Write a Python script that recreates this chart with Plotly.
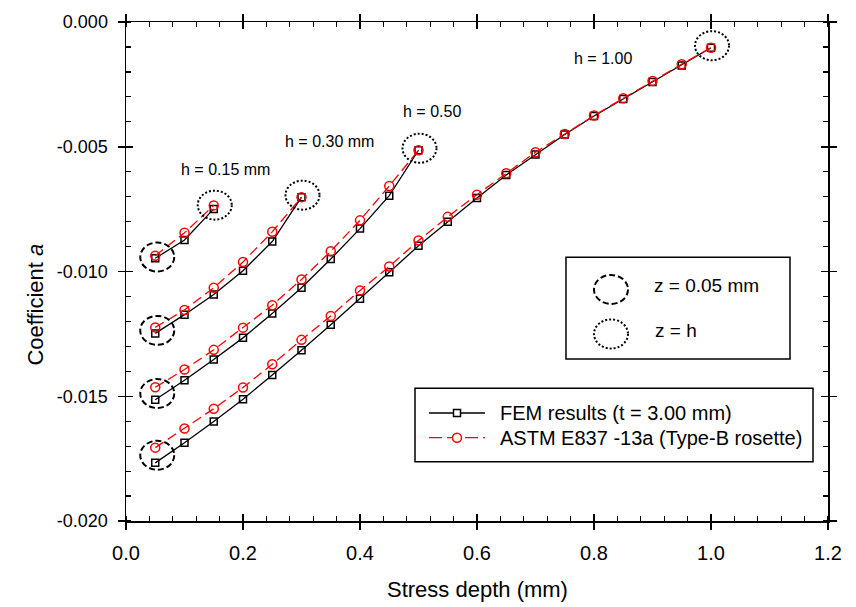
import plotly.graph_objects as go

# ---------------- data ----------------
x_h015 = [0.05, 0.10, 0.15]
fem_h015 = [-0.00947, -0.00874, -0.00749]
astm_h015 = [-0.00937, -0.00845, -0.00735]

x_h030 = [0.05, 0.10, 0.15, 0.20, 0.25, 0.30]
fem_h030 = [-0.01248, -0.01173, -0.01092, -0.00997, -0.00880, -0.00702]
astm_h030 = [-0.01224, -0.01154, -0.01065, -0.00962, -0.00841, -0.00702]

x_h050 = [0.05, 0.10, 0.15, 0.20, 0.25, 0.30, 0.35, 0.40, 0.45, 0.50]
fem_h050 = [-0.01514, -0.01436, -0.01353, -0.01266, -0.01168, -0.01065,
            -0.00950, -0.00828, -0.00696, -0.00514]
astm_h050 = [-0.01464, -0.01393, -0.01314, -0.01225, -0.01135, -0.01032,
             -0.00919, -0.00795, -0.00657, -0.00514]

x_h100 = [0.05, 0.10, 0.15, 0.20, 0.25, 0.30, 0.35, 0.40, 0.45, 0.50,
          0.55, 0.60, 0.65, 0.70, 0.75, 0.80, 0.85, 0.90, 0.95, 1.00]
fem_h100 = [-0.01767, -0.01686, -0.01601, -0.01512, -0.01415, -0.01316,
            -0.01213, -0.01109, -0.01003, -0.00897, -0.00801, -0.00705,
            -0.00613, -0.00531, -0.00451, -0.00377, -0.00309, -0.00240,
            -0.00174, -0.00103]
astm_h100 = [-0.01706, -0.01629, -0.01550, -0.01465, -0.01372, -0.01274,
             -0.01178, -0.01076, -0.00980, -0.00876, -0.00781, -0.00692,
             -0.00606, -0.00522, -0.00449, -0.00375, -0.00306, -0.00236,
             -0.00169, -0.00103]

curve_labels = ["h = 0.15 mm", "h = 0.30 mm", "h = 0.50", "h = 1.00"]
x_ticks = [0.0, 0.2, 0.4, 0.6, 0.8, 1.0, 1.2]
x_ticktext = ["0.0", "0.2", "0.4", "0.6", "0.8", "1.0", "1.2"]
y_ticks = [0.0, -0.005, -0.010, -0.015, -0.020]
y_ticktext = ["0.000", "-0.005", "-0.010", "-0.015", "-0.020"]
fem_name = "FEM results (t = 3.00 mm)"
astm_name = "ASTM E837 -13a (Type-B rosette)"
z_labels = ["z = 0.05 mm", "z = h"]

curves = [(x_h015, fem_h015, astm_h015), (x_h030, fem_h030, astm_h030),
          (x_h050, fem_h050, astm_h050), (x_h100, fem_h100, astm_h100)]

# ---------------- layout geometry (pixels) ----------------
W, H = 856, 607
L, R, T, B = 126, 828, 16, 521
FONT = "Liberation Sans, Arial, sans-serif"


def px(xp):
    return (xp - L) / (R - L)


def py(yp):
    return (B - yp) / (B - T)


fig = go.Figure()

for xs, fem, astm in curves:
    fig.add_trace(go.Scatter(
        x=xs, y=fem, mode="lines+markers", name=fem_name, showlegend=False,
        line=dict(color="black", width=1.3),
        marker=dict(symbol="square-open", size=7, color="black",
                    line=dict(width=1.5, color="black")),
        cliponaxis=False))
    fig.add_trace(go.Scatter(
        x=xs, y=astm, mode="lines+markers", name=astm_name, showlegend=False,
        line=dict(color="#ff0000", width=1.3, dash="10px,5px"),
        marker=dict(symbol="circle-open", size=9, color="#ff0000",
                    line=dict(width=1.5, color="#ff0000")),
        cliponaxis=False))

# invisible trace to activate overlay axes for crossing major ticks
fig.add_trace(go.Scatter(x=[None], y=[None], xaxis="x2", yaxis="y2",
                         showlegend=False, hoverinfo="skip"))

shapes = []
EW, EH = 17, 14.5
for xs, fem, astm in curves:
    # z = 0.05 mm (dashed) at first point
    yc = (fem[0] + astm[0]) / 2
    shapes.append(dict(type="circle", xref="x", yref="y",
                       xsizemode="pixel", ysizemode="pixel",
                       xanchor=xs[0], yanchor=yc,
                       x0=-EW + 2, x1=EW + 2, y0=-EH, y1=EH,
                       line=dict(color="black", width=2, dash="6px,3px")))
    # z = h (dotted) at last point
    yc = (fem[-1] + astm[-1]) / 2
    shapes.append(dict(type="circle", xref="x", yref="y",
                       xsizemode="pixel", ysizemode="pixel",
                       xanchor=xs[-1], yanchor=yc,
                       x0=-EW + 1, x1=EW + 1, y0=-EH + 2, y1=EH + 2,
                       line=dict(color="black", width=2, dash="2px,2px")))

# legend box 1 (z markers)
shapes.append(dict(type="rect", xref="paper", yref="paper",
                   x0=px(566), x1=px(790), y0=py(357), y1=py(254),
                   line=dict(color="black", width=1.5), fillcolor="white",
                   layer="below"))
shapes.append(dict(type="circle", xref="paper", yref="paper",
                   xsizemode="pixel", ysizemode="pixel",
                   xanchor=px(611), yanchor=py(286.7),
                   x0=-EW, x1=EW, y0=-EH, y1=EH,
                   line=dict(color="black", width=2, dash="6px,3px")))
shapes.append(dict(type="circle", xref="paper", yref="paper",
                   xsizemode="pixel", ysizemode="pixel",
                   xanchor=px(611), yanchor=py(331.7),
                   x0=-EW, x1=EW, y0=-EH, y1=EH,
                   line=dict(color="black", width=2, dash="2px,2px")))

# legend box 2 (series)
shapes.append(dict(type="rect", xref="paper", yref="paper",
                   x0=px(415), x1=px(813), y0=py(461), y1=py(386.7),
                   line=dict(color="black", width=1.5), fillcolor="white",
                   layer="below"))
shapes.append(dict(type="line", xref="paper", yref="paper",
                   x0=px(429), x1=px(485), y0=py(411.7), y1=py(411.7),
                   line=dict(color="black", width=1.3)))
shapes.append(dict(type="rect", xref="paper", yref="paper",
                   xsizemode="pixel", ysizemode="pixel",
                   xanchor=px(457), yanchor=py(411.7),
                   x0=-3.5, x1=3.5, y0=-3.5, y1=3.5,
                   line=dict(color="black", width=1.5), fillcolor="white"))
shapes.append(dict(type="line", xref="paper", yref="paper",
                   x0=px(429), x1=px(485), y0=py(436.7), y1=py(436.7),
                   line=dict(color="#ff0000", width=1.3, dash="13px,5px")))
shapes.append(dict(type="circle", xref="paper", yref="paper",
                   xsizemode="pixel", ysizemode="pixel",
                   xanchor=px(457), yanchor=py(436.7),
                   x0=-4.5, x1=4.5, y0=-4.5, y1=4.5,
                   line=dict(color="#ff0000", width=1.5), fillcolor="white"))

annotations = []
label_pos = [(225.5, 165), (329, 137), (431.5, 107), (602.5, 53)]
for txt, (ax_, ay_) in zip(curve_labels, label_pos):
    annotations.append(dict(text=txt, xref="paper", yref="paper",
                            x=px(ax_), y=py(ay_), showarrow=False,
                            xanchor="center", yanchor="middle",
                            font=dict(family=FONT, size=16, color="black")))
annotations.append(dict(text=z_labels[0], xref="paper", yref="paper",
                        x=px(652), y=py(283), showarrow=False,
                        xanchor="left", yanchor="middle",
                        font=dict(family=FONT, size=19, color="black")))
annotations.append(dict(text=z_labels[1], xref="paper", yref="paper",
                        x=px(653), y=py(328), showarrow=False,
                        xanchor="left", yanchor="middle",
                        font=dict(family=FONT, size=19, color="black")))
annotations.append(dict(text=fem_name, xref="paper", yref="paper",
                        x=px(498), y=py(411.7), showarrow=False,
                        xanchor="left", yanchor="middle",
                        font=dict(family=FONT, size=20, color="black")))
annotations.append(dict(text=astm_name, xref="paper", yref="paper",
                        x=px(498), y=py(436.7), showarrow=False,
                        xanchor="left", yanchor="middle",
                        font=dict(family=FONT, size=20, color="black")))
# axis titles
annotations.append(dict(text="Stress depth (mm)", xref="paper", yref="paper",
                        x=0.5, y=py(590), showarrow=False,
                        xanchor="center", yanchor="middle",
                        font=dict(family=FONT, size=22, color="black")))
annotations.append(dict(text="Coefficient <i>a</i>", xref="paper", yref="paper",
                        x=px(36), y=py(302), showarrow=False, textangle=-90,
                        xanchor="center", yanchor="middle",
                        font=dict(family=FONT, size=22, color="black")))

axis_common = dict(showline=True, linecolor="black", linewidth=1.5,
                   showgrid=False, zeroline=False, mirror="ticks",
                   ticks="outside", ticklen=7, tickwidth=1.5, tickcolor="black")

fig.update_layout(
    width=W, height=H,
    margin=dict(l=L, r=W - R, t=T, b=H - B),
    paper_bgcolor="white", plot_bgcolor="white",
    showlegend=False,
    font=dict(family=FONT, color="black"),
    xaxis=dict(range=[0, 1.2], tickvals=x_ticks, ticktext=x_ticktext,
               tickfont=dict(family=FONT, size=20), ticklabelstandoff=6,
               minor=dict(dtick=0.04, tick0=0, ticks="inside", ticklen=5,
                          tickwidth=1.2, tickcolor="black", showgrid=False),
               **axis_common),
    yaxis=dict(range=[-0.020, 0.0], tickvals=y_ticks, ticktext=y_ticktext,
               tickfont=dict(family=FONT, size=18), ticklabelstandoff=6,
               minor=dict(dtick=0.001, tick0=0, ticks="inside", ticklen=5,
                          tickwidth=1.2, tickcolor="black", showgrid=False),
               **axis_common),
    xaxis2=dict(overlaying="x", matches="x", tickvals=x_ticks,
                showticklabels=False, showline=False, showgrid=False,
                zeroline=False, mirror="ticks", ticks="inside", ticklen=7,
                tickwidth=1.5, tickcolor="black"),
    yaxis2=dict(overlaying="y", matches="y", tickvals=y_ticks,
                showticklabels=False, showline=False, showgrid=False,
                zeroline=False, mirror="ticks", ticks="inside", ticklen=7,
                tickwidth=1.5, tickcolor="black"),
    shapes=shapes,
    annotations=annotations,
)

fig.write_html("out.html",
               config={"displayModeBar": False, "staticPlot": True},
               post_script="document.body.style.margin='0px';"
                           "document.body.style.padding='0px';")
